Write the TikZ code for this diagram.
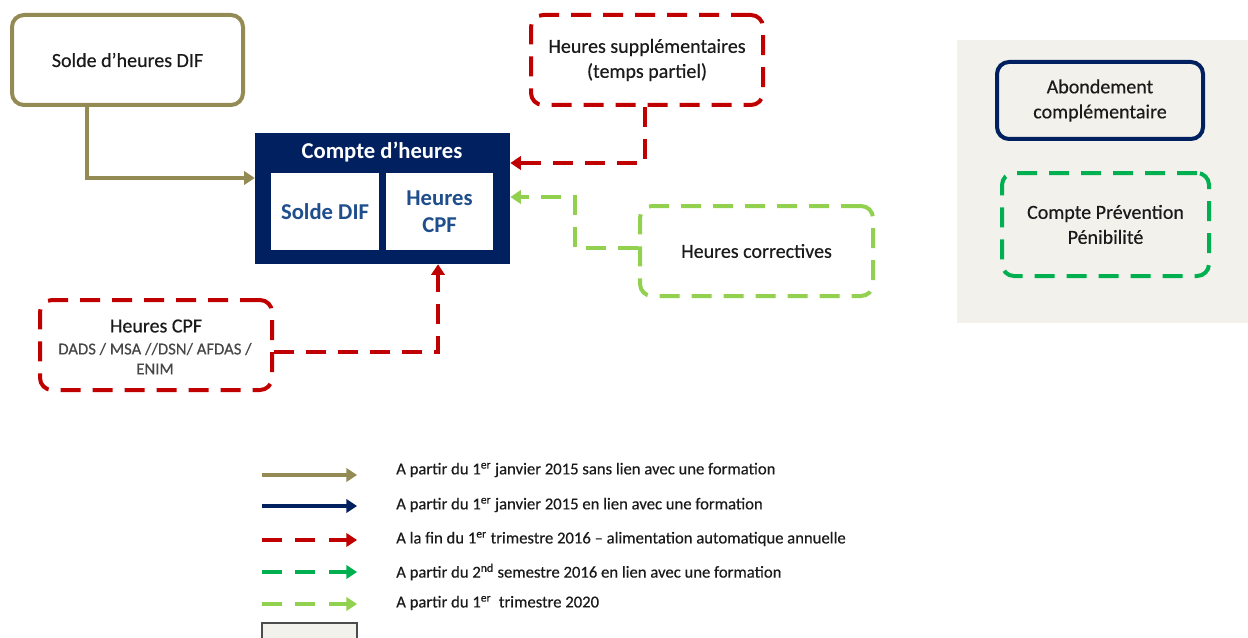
\documentclass[tikz,border=0pt]{standalone}
\usepackage{fontspec}
\setmainfont{Carlito}
\usetikzlibrary{arrows.meta,calc}
\definecolor{olivec}{HTML}{948A54}
\definecolor{navyc}{HTML}{002060}
\definecolor{innerblue}{HTML}{1F4E8C}
\definecolor{redc}{HTML}{C00000}
\definecolor{lgreen}{HTML}{92D050}
\definecolor{dgreen}{HTML}{00B050}
\definecolor{panelc}{HTML}{F2F1EC}
\definecolor{txtc}{HTML}{1A1A1A}
\newfontfamily\lblfont[FakeBold=0.4]{Carlito}
\tikzset{
  box/.style={inner sep=0pt, line width=3pt, rounded corners=9pt, align=center, text=txtc, font=\lblfont\fontsize{15}{18.75}\selectfont},
  dsh/.style={dash pattern=on 15pt off 9pt},
  conn/.style={line width=3pt, -{Triangle[length=8pt,width=10pt]}},
  legtxt/.style={anchor=west, inner sep=0pt, text=txtc, font=\lblfont\fontsize{12.5}{14}\selectfont},
  inbox/.style={fill=white, draw=none, inner sep=0pt, align=center, text=innerblue, font=\bfseries\fontsize{17}{20}\selectfont}
}
\begin{document}
\begin{tikzpicture}[x=0.75pt,y=-0.75pt]
\useasboundingbox (0,0) rectangle (1248,638);
% grey panel
\fill[panelc] (957,40) rectangle (1248,323);

% Solde d'heures DIF
\node[box, draw=olivec, minimum width=173.25pt, minimum height=67.5pt] (sdif) at (127.5,60) {Solde d’heures DIF};
% Compte d'heures
\node[fill=navyc, inner sep=0pt, minimum width=191.25pt, minimum height=98.25pt] (cpt) at (382.5,198.5) {};
\node[text=white, font=\bfseries\fontsize{17}{20}\selectfont, inner sep=0pt] (cpttitle) at (382,152) {Compte d’heures};
\node[inbox, minimum width=81pt, minimum height=57.75pt] (sdifin) at (325,211.5) {Solde DIF};
\node[inbox, minimum width=80.25pt, minimum height=57.75pt] (hcpfin) at (439.5,211.5) {Heures\\CPF};
% Heures supplementaires
\node[box, draw=redc, dsh, minimum width=174pt, minimum height=67.5pt] (sup) at (647,60) {Heures supplémentaires\\(temps partiel)};
% Heures correctives
\node[box, draw=lgreen, dsh, minimum width=174.75pt, minimum height=67.5pt] (corr) at (756.5,251) {Heures correctives};
% Heures CPF
\node[box, draw=redc, dsh, minimum width=174pt, minimum height=67.5pt] (hcpf) at (156,345) {};
\node[inner sep=0pt, text=txtc, font=\lblfont\fontsize{15}{18}\selectfont] (hcpft1) at (156,326) {Heures CPF};
\node[inner sep=0pt, text=black!72, font=\lblfont\fontsize{12.5}{15}\selectfont] (hcpft2) at (155,349) {DADS / MSA //DSN/ AFDAS /};
\node[inner sep=0pt, text=black!72, font=\lblfont\fontsize{12.5}{15}\selectfont] (hcpft3) at (155,369) {ENIM};
% panel boxes
\node[box, draw=navyc, minimum width=154.5pt, minimum height=57.75pt] (abond) at (1100,100.5) {Abondement\\complémentaire};
\node[box, draw=dgreen, dsh, minimum width=155.25pt, minimum height=77.25pt] (cpp) at (1105.5,224.5) {Compte Prévention\\Pénibilité};

% connectors
\coordinate (k1) at (87,178);
\draw[conn, olivec] (sdif.south -| k1) -- (k1) -- (cpt.west |- k1);
\coordinate (k2) at (645,163);
\draw[conn, redc, dsh] (sup.south -| k2) -- (k2) -- (cpt.east |- k2);
\coordinate (k3) at (575,248);
\coordinate (k4) at (575,197);
\draw[conn, lgreen, dsh] (corr.west |- k3) -- (k3) -- (k4) -- (cpt.east |- k4);
\coordinate (k5) at (438,352);
\draw[conn, redc, dsh] (hcpf.east |- k5) -- (k5) -- (cpt.south -| k5);

% legend
\coordinate (la1) at (262,475); \coordinate (lb1) at (357,475);
\coordinate (la2) at (262,506); \coordinate (lb2) at (357,506);
\coordinate (la3) at (262,540); \coordinate (lb3) at (357,540);
\coordinate (la4) at (262,572); \coordinate (lb4) at (357,572);
\coordinate (la5) at (262,604); \coordinate (lb5) at (357,604);
\draw[conn, olivec] (la1) -- (lb1);
\draw[conn, navyc] (la2) -- (lb2);
\draw[conn, redc, dash pattern=on 15pt off 10pt] (la3) -- (lb3);
\draw[conn, dgreen, dash pattern=on 15pt off 10pt] (la4) -- (lb4);
\draw[conn, lgreen, dash pattern=on 15pt off 10pt] (la5) -- (lb5);
\node[legtxt] (t1) at (396,470) {A partir du 1\textsuperscript{er} janvier 2015 sans lien avec une formation};
\node[legtxt] (t2) at (396,505) {A partir du 1\textsuperscript{er} janvier 2015 en lien avec une formation};
\node[legtxt] (t3) at (396,539) {A la fin du 1\textsuperscript{er} trimestre 2016 – alimentation automatique annuelle};
\node[legtxt] (t4) at (396,572) {A partir du 2\textsuperscript{nd} semestre 2016 en lien avec une formation};
\node[legtxt] (t5) at (396,603) {A partir du 1\textsuperscript{er}\ \ trimestre 2020};
\node[fill=panelc, draw=black!70, line width=0.8pt, inner sep=0pt, minimum width=71.25pt, minimum height=18.75pt] (legbox) at (309.5,635.5) {};
\end{tikzpicture}
\end{document}
